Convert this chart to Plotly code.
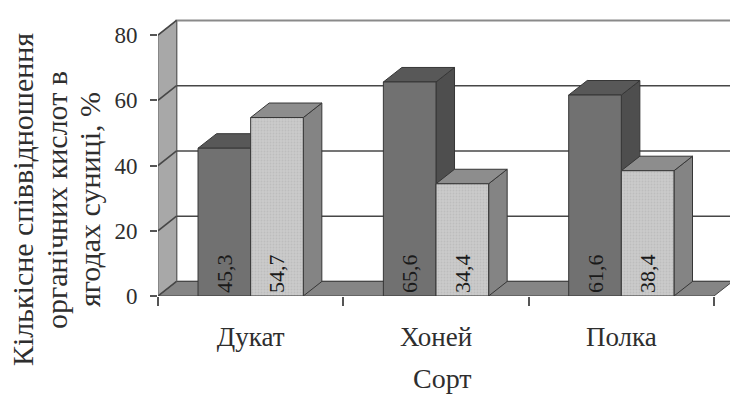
import plotly.graph_objects as go

# --- data -------------------------------------------------------------
categories = ["Дукат", "Хоней", "Полка"]
series_dark = [45.3, 65.6, 61.6]
series_light = [54.7, 34.4, 38.4]
y_ticks = [0, 20, 40, 60, 80]

# --- pseudo-3D geometry (in axis units) --------------------------------
DX, DY = 0.10, 4.45      # shift of the back plane
BAR_W = 0.284            # width of one bar
Y_TOP = 80               # top of the walls
X_LO, X_HI = -0.5, len(categories) - 0.5

SERIF = "Times New Roman"
TXT = "#2e2e2e"
GRID = "#474747"
EDGE = "#363636"

# colours: (front, top, side)
DARK = ("#717171", "#585858", "#4e4e4e")
LIGHT = ("#cacaca", "#8d8d8d", "#848484")


def lbl(v):
    return f"{v:.1f}".replace(".", ",")


def poly(pts, fill, line=EDGE, width=1):
    path = "M " + " L ".join(f"{x},{y}" for x, y in pts) + " Z"
    return dict(type="path", xref="x", yref="y", path=path, fillcolor=fill,
                line=dict(color=line, width=width), layer="below")


def seg(x0, y0, x1, y1, color=GRID, width=1.6):
    return dict(type="line", xref="x", yref="y", x0=x0, y0=y0, x1=x1, y1=y1,
                line=dict(color=color, width=width), layer="below")


shapes = []
# back wall
shapes.append(dict(type="rect", xref="x", yref="y", x0=X_LO + DX, x1=X_HI + DX,
                   y0=DY, y1=Y_TOP + DY, fillcolor="white",
                   line=dict(color="#8a8a8a", width=2), layer="below"))
for v in y_ticks[1:-1]:
    shapes.append(seg(X_LO + DX, v + DY, X_HI + DX, v + DY))
# floor
shapes.append(poly([(X_LO, 0), (X_HI, 0), (X_HI + DX, DY), (X_LO + DX, DY)],
                   "#858585", line="#454545"))
# left wall
shapes.append(poly([(X_LO, 0), (X_LO, Y_TOP), (X_LO + DX, Y_TOP + DY), (X_LO + DX, DY)],
                   "#a8a8a8", line="#666666"))
for v in y_ticks:
    shapes.append(seg(X_LO, v, X_LO + DX, v + DY))


def box_faces(left, value, cols):
    right = left + BAR_W
    side = poly([(right, 0), (right + DX, DY), (right + DX, value + DY), (right, value)], cols[2])
    top = poly([(left, value), (right, value), (right + DX, value + DY), (left + DX, value + DY)], cols[1])
    return [side, top]


for i, (vd, vl) in enumerate(zip(series_dark, series_light)):
    shapes += box_faces(i - BAR_W, vd, DARK)
    shapes += box_faces(i, vl, LIGHT)

x_idx = list(range(len(categories)))
label_font = dict(family=SERIF, size=22, color="#1a1a1a")

fig = go.Figure()
fig.add_trace(go.Bar(
    x=x_idx, y=series_dark, width=BAR_W, offset=-BAR_W,
    marker=dict(color=DARK[0], line=dict(color=EDGE, width=1)),
    text=[lbl(v) for v in series_dark], textposition="inside",
    insidetextanchor="start", textangle=-90, textfont=label_font,
    cliponaxis=False, showlegend=False, hoverinfo="skip"))
fig.add_trace(go.Bar(
    x=x_idx, y=series_light, width=BAR_W, offset=0,
    marker=dict(color=LIGHT[0], line=dict(color=EDGE, width=1),
                pattern=dict(shape=".", fillmode="overlay", fgcolor="#b0b0b0",
                             size=3, solidity=0.3)),
    text=[lbl(v) for v in series_light], textposition="inside",
    insidetextanchor="start", textangle=-90, textfont=label_font,
    cliponaxis=False, showlegend=False, hoverinfo="skip"))
# invisible trace carrying the boundary tick axis
fig.add_trace(go.Scatter(x=[X_LO, X_HI], y=[0, 0], xaxis="x2", mode="none",
                         showlegend=False, hoverinfo="skip"))

L, R, T, B = 158, 0, 15, 98
W, H = 730, 394
px_per_x = (714 - L) / len(categories)
x_range = [X_LO, X_LO + (W - L - R) / px_per_x]
px_per_y = (296 - 35) / Y_TOP
y_range = [0, (H - B - T) / px_per_y]

fig.update_layout(
    width=W, height=H, margin=dict(l=L, r=R, t=T, b=B),
    paper_bgcolor="white", plot_bgcolor="white",
    barmode="overlay", shapes=shapes,
    xaxis=dict(range=x_range, tickvals=x_idx, ticktext=categories, ticks="",
               showgrid=False, zeroline=False, showline=False, automargin=False,
               tickfont=dict(family=SERIF, size=27, color=TXT), ticklabelstandoff=22),
    xaxis2=dict(range=x_range, overlaying="x", anchor="y", side="bottom",
                tickvals=[X_LO + k for k in range(len(categories) + 1)],
                ticks="outside", ticklen=9, tickwidth=1.5, tickcolor="#555",
                showticklabels=False, showgrid=False, zeroline=False,
                showline=False, automargin=False),
    yaxis=dict(range=y_range, tickvals=y_ticks, ticks="outside", ticklen=7,
               tickwidth=1.5, tickcolor="#555", showgrid=False, zeroline=False,
               showline=False, automargin=False, ticklabelstandoff=8,
               tickfont=dict(family=SERIF, size=23, color=TXT)),
)

# axis titles
title_font = dict(family=SERIF, size=30, color=TXT)
y_title_lines = ["Кількісне співвідношення", "органічних кислот в", "ягодах суниці, %"]
y_center = (296 - 189) / (H - B - T)
for k, (line, cx) in enumerate(zip(y_title_lines, [22, 56, 89])):
    fig.add_annotation(text=line, textangle=-90, xref="paper", yref="paper",
                       x=0, xshift=cx - L, y=y_center, yshift=-11, xanchor="center",
                       yanchor="middle", showarrow=False, font=title_font)
fig.add_annotation(text="Сорт", xref="paper", yref="paper",
                   x=(442 - L) / (W - L - R), y=0, yanchor="top", yshift=-65,
                   showarrow=False, font=dict(family=SERIF, size=28, color=TXT))

fig.write_html("out.html")
